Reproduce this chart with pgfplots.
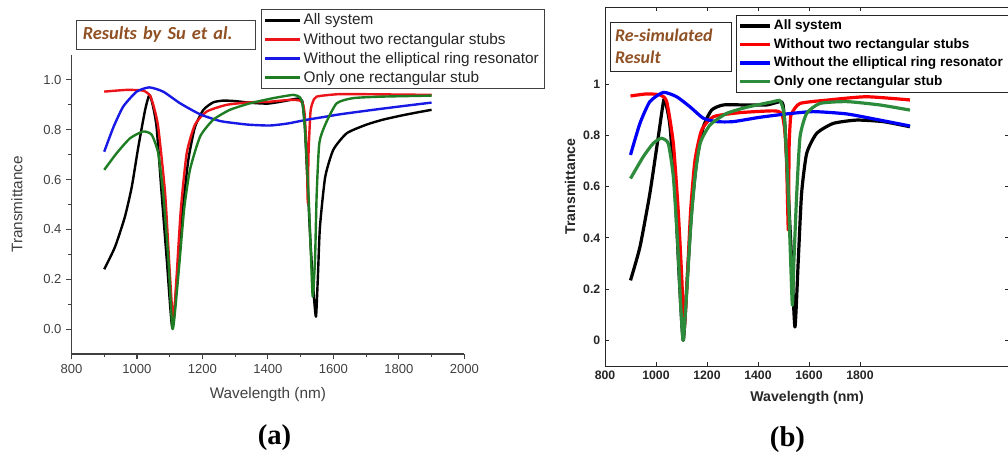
\documentclass[border=0pt]{standalone}
\usepackage{fontspec}
\setmainfont{Liberation Sans}
\newfontfamily\calibfont{Carlito}
\newfontfamily\timesfont{Liberation Serif}
\usepackage{pgfplots}
\pgfplotsset{compat=1.18}
\definecolor{aGray}{HTML}{404040}
\definecolor{bGray}{HTML}{262626}
\definecolor{brownT}{RGB}{143,80,35}
\definecolor{oRed}{RGB}{235,20,25}
\definecolor{oBlue}{RGB}{25,25,230}
\definecolor{oGreen}{RGB}{30,125,35}
\definecolor{mRed}{RGB}{250,0,0}
\definecolor{mBlue}{RGB}{0,0,250}
\definecolor{mGreen}{RGB}{45,140,60}
\begin{document}
\begin{tikzpicture}
\path[use as bounding box] (0,0) rectangle (756pt,341.25pt);
% ---------------- panel (a)
\begin{axis}[
 at={(53.625pt,75.75pt)}, anchor=south west, scale only axis,
 width=294.6pt, height=224.25pt,
 xmin=800, xmax=2000, ymin=-0.1, ymax=1.1,
 axis x line*=bottom, axis y line*=left,
 axis line style={color=aGray, line width=0.8pt},
 xtick={800,1000,...,2000}, ytick={0,0.2,0.4,0.6,0.8,1.0},
 minor x tick num=1, minor y tick num=1,
 tick align=outside, major tick length=4pt, minor tick length=2.5pt,
 tick style={color=aGray, line width=0.8pt},
 /pgf/number format/assume math mode=true,
 ticklabel style={font=\fontsize{9.8}{11}\selectfont, color=aGray},
 x tick label style={/pgf/number format/1000 sep={}},
 y tick label style={/pgf/number format/.cd, fixed, fixed zerofill, precision=1},
 xlabel={Wavelength (nm)}, ylabel={Transmittance},
 label style={font=\fontsize{11.5}{13}\selectfont, color=aGray},
 xlabel style={at={(axis description cs:0.5,0)}, anchor=center, yshift=-30.75pt},
 ylabel style={at={(axis description cs:0,0.5)}, anchor=center, yshift=40.9pt},
 clip=false,
 legend style={at={(0.4817,1.1528)}, anchor=north west, draw=aGray, line width=0.7pt,
   font=\fontsize{11.5}{13}\selectfont, text=black!85, inner xsep=2pt, inner ysep=1pt, row sep=0.5pt},
 legend cell align=left,
 legend image code/.code={\draw[#1, line width=1.8pt] (0pt,0pt) -- (26pt,0pt);},
]
\addplot[black, line width=1.8pt, line join=round, smooth, tension=0.35] coordinates {
(900,0.24)(933,0.33)(963,0.45)(984,0.57)(1004,0.73)(1025,0.88)(1038,0.94)(1048,0.90)
(1060,0.81)(1075,0.55)(1091,0.28)(1108,0.005)(1123,0.21)(1140,0.48)(1157,0.68)(1177,0.81)
(1203,0.88)(1233,0.91)(1264,0.917)(1300,0.915)(1350,0.908)(1400,0.905)(1450,0.915)(1490,0.925)
(1505,0.915)(1513,0.81)(1520,0.62)(1530,0.35)(1540,0.14)(1547,0.05)(1553,0.22)(1559,0.41)
(1575,0.61)(1600,0.72)(1641,0.786)(1700,0.82)(1750,0.84)(1804,0.856)(1850,0.868)(1900,0.88)};
\addlegendentry{All system}
\addplot[oRed, line width=1.8pt, line join=round, smooth, tension=0.35] coordinates {
(900,0.953)(969,0.96)(1019,0.957)(1040,0.937)(1052,0.89)(1065,0.81)(1086,0.545)(1101,0.21)
(1111,0.03)(1121,0.21)(1134,0.48)(1152,0.706)(1177,0.82)(1213,0.873)(1274,0.90)(1345,0.91)
(1400,0.912)(1468,0.92)(1498,0.917)(1508,0.90)(1513,0.85)(1519,0.68)(1522,0.505)(1524,0.70)
(1530,0.87)(1537,0.91)(1549,0.933)(1620,0.943)(1750,0.942)(1900,0.94)};
\addlegendentry{Without two rectangular stubs}
\addplot[oBlue, line width=1.8pt, line join=round, smooth, tension=0.35] coordinates {
(900,0.712)(928,0.81)(958,0.893)(999,0.953)(1038,0.97)(1080,0.953)(1132,0.906)(1193,0.862)
(1254,0.835)(1315,0.824)(1345,0.82)(1406,0.817)(1460,0.825)(1518,0.84)(1570,0.851)(1620,0.862)
(1722,0.88)(1800,0.893)(1900,0.909)};
\addlegendentry{Without the elliptical ring resonator}
\addplot[oGreen, line width=1.8pt, line join=round, smooth, tension=0.35] coordinates {
(900,0.639)(938,0.706)(979,0.766)(1019,0.793)(1045,0.78)(1065,0.706)(1080,0.545)(1096,0.278)
(1109,0.0)(1126,0.21)(1144,0.48)(1162,0.64)(1193,0.773)(1233,0.84)(1284,0.88)(1345,0.906)
(1417,0.927)(1478,0.94)(1498,0.93)(1506,0.9)(1513,0.81)(1524,0.54)(1532,0.28)(1537,0.13)
(1544,0.28)(1549,0.54)(1557,0.746)(1575,0.82)(1610,0.906)(1661,0.927)(1750,0.933)(1900,0.937)};
\addlegendentry{Only one rectangular stub}
\node[draw=aGray, line width=0.7pt, minimum width=133.7pt, minimum height=22pt,
  text width=124.7pt, inner xsep=4.5pt, align=left, anchor=center,
  font=\calibfont\bfseries\itshape\fontsize{13.8}{16}\selectfont, text=brownT]
  at (rel axis cs:0.2403,1.068) {Results by Su et al.};
\end{axis}
% ---------------- panel (b)
\begin{axis}[
 at={(453.75pt,66.75pt)}, anchor=south west, scale only axis,
 width=303.1pt, height=269.25pt,
 xmin=800, xmax=2385, ymin=-0.1, ymax=1.3,
 axis line style={color=bGray, line width=0.6pt},
 xtick={800,1000,...,1800}, ytick={0,0.2,0.4,0.6,0.8,1},
 tick align=inside, major tick length=3pt,
 tick style={color=bGray, line width=0.6pt},
 /pgf/number format/assume math mode=true,
 ticklabel style={font=\bfseries\fontsize{9.2}{11}\selectfont, color=bGray},
 x tick label style={/pgf/number format/1000 sep={}},
 xlabel={Wavelength (nm)}, ylabel={Transmittance},
 label style={font=\bfseries\fontsize{10.6}{12}\selectfont, color=bGray},
 xlabel style={at={(axis description cs:0.5,0)}, anchor=center, yshift=-24pt},
 ylabel style={at={(axis description cs:0,0.5)}, anchor=center, yshift=26.25pt},
 clip=false,
 legend style={at={(0.3234,0.9777)}, anchor=north west, draw=bGray, line width=0.6pt,
   font=\bfseries\fontsize{10.2}{12}\selectfont, inner xsep=2pt, inner ysep=1.5pt, row sep=1pt},
 legend cell align=left,
 legend image code/.code={\draw[#1, line width=2.4pt] (0pt,0pt) -- (22pt,0pt);},
]
\addplot[black, line width=2.4pt, line join=round, smooth, tension=0.35] coordinates {
(900,0.234)(937,0.364)(976,0.573)(1009,0.794)(1031,0.94)(1042,0.91)(1055,0.833)(1075,0.573)
(1091,0.247)(1107,0.0)(1123,0.247)(1140,0.508)(1160,0.703)(1186,0.833)(1218,0.898)(1264,0.918)
(1350,0.918)(1434,0.918)(1486,0.931)(1498,0.92)(1506,0.833)(1519,0.573)(1532,0.312)(1545,0.052)
(1558,0.312)(1571,0.573)(1591,0.729)(1630,0.807)(1695,0.846)(1787,0.859)(1891,0.853)(1996,0.833)};
\addlegendentry{All system}
\addplot[mRed, line width=2.4pt, line join=round, smooth, tension=0.35] coordinates {
(900,0.953)(963,0.961)(1016,0.957)(1042,0.931)(1068,0.768)(1087,0.508)(1101,0.247)(1110,0.04)
(1123,0.247)(1136,0.508)(1153,0.703)(1179,0.82)(1225,0.872)(1329,0.888)(1460,0.895)(1493,0.885)
(1505,0.82)(1512,0.703)(1519,0.43)(1522,0.75)(1527,0.86)(1532,0.885)(1565,0.924)(1682,0.938)
(1826,0.95)(1996,0.9375)};
\addlegendentry{Without two rectangular stubs}
\addplot[mBlue, line width=2.4pt, line join=round, smooth, tension=0.35] coordinates {
(900,0.723)(937,0.846)(976,0.931)(1029,0.967)(1081,0.95)(1133,0.911)(1186,0.866)(1238,0.853)
(1303,0.853)(1408,0.87)(1512,0.883)(1617,0.892)(1748,0.883)(1878,0.859)(1996,0.836)};
\addlegendentry{Without the elliptical ring resonator}
\addplot[mGreen, line width=2.4pt, line join=round, smooth, tension=0.35] coordinates {
(900,0.631)(950,0.716)(989,0.768)(1020,0.788)(1048,0.768)(1068,0.638)(1085,0.378)(1098,0.117)
(1107,0.0)(1120,0.182)(1136,0.443)(1153,0.638)(1173,0.768)(1212,0.84)(1277,0.885)(1356,0.909)
(1460,0.931)(1486,0.935)(1499,0.90)(1506,0.833)(1519,0.573)(1528,0.312)(1535,0.137)(1541,0.312)
(1552,0.573)(1565,0.794)(1591,0.885)(1643,0.924)(1748,0.931)(1878,0.918)(1996,0.898)};
\addlegendentry{Only one rectangular stub}
\node[draw=bGray, line width=0.6pt, minimum width=90.75pt, minimum height=36.75pt,
  text width=83pt, inner xsep=3.75pt, align=left, anchor=center,
  font=\calibfont\bfseries\itshape\fontsize{13.4}{16.7}\selectfont, text=brownT]
  at (rel axis cs:0.162,0.89) {Re-simulated\\Result};
\end{axis}
\node[font=\timesfont\bfseries\fontsize{21.5}{24}\selectfont] at (205.9pt,12.75pt) {(a)};
\node[font=\timesfont\bfseries\fontsize{21.5}{24}\selectfont] at (590.6pt,11.25pt) {(b)};
\end{tikzpicture}
\end{document}
